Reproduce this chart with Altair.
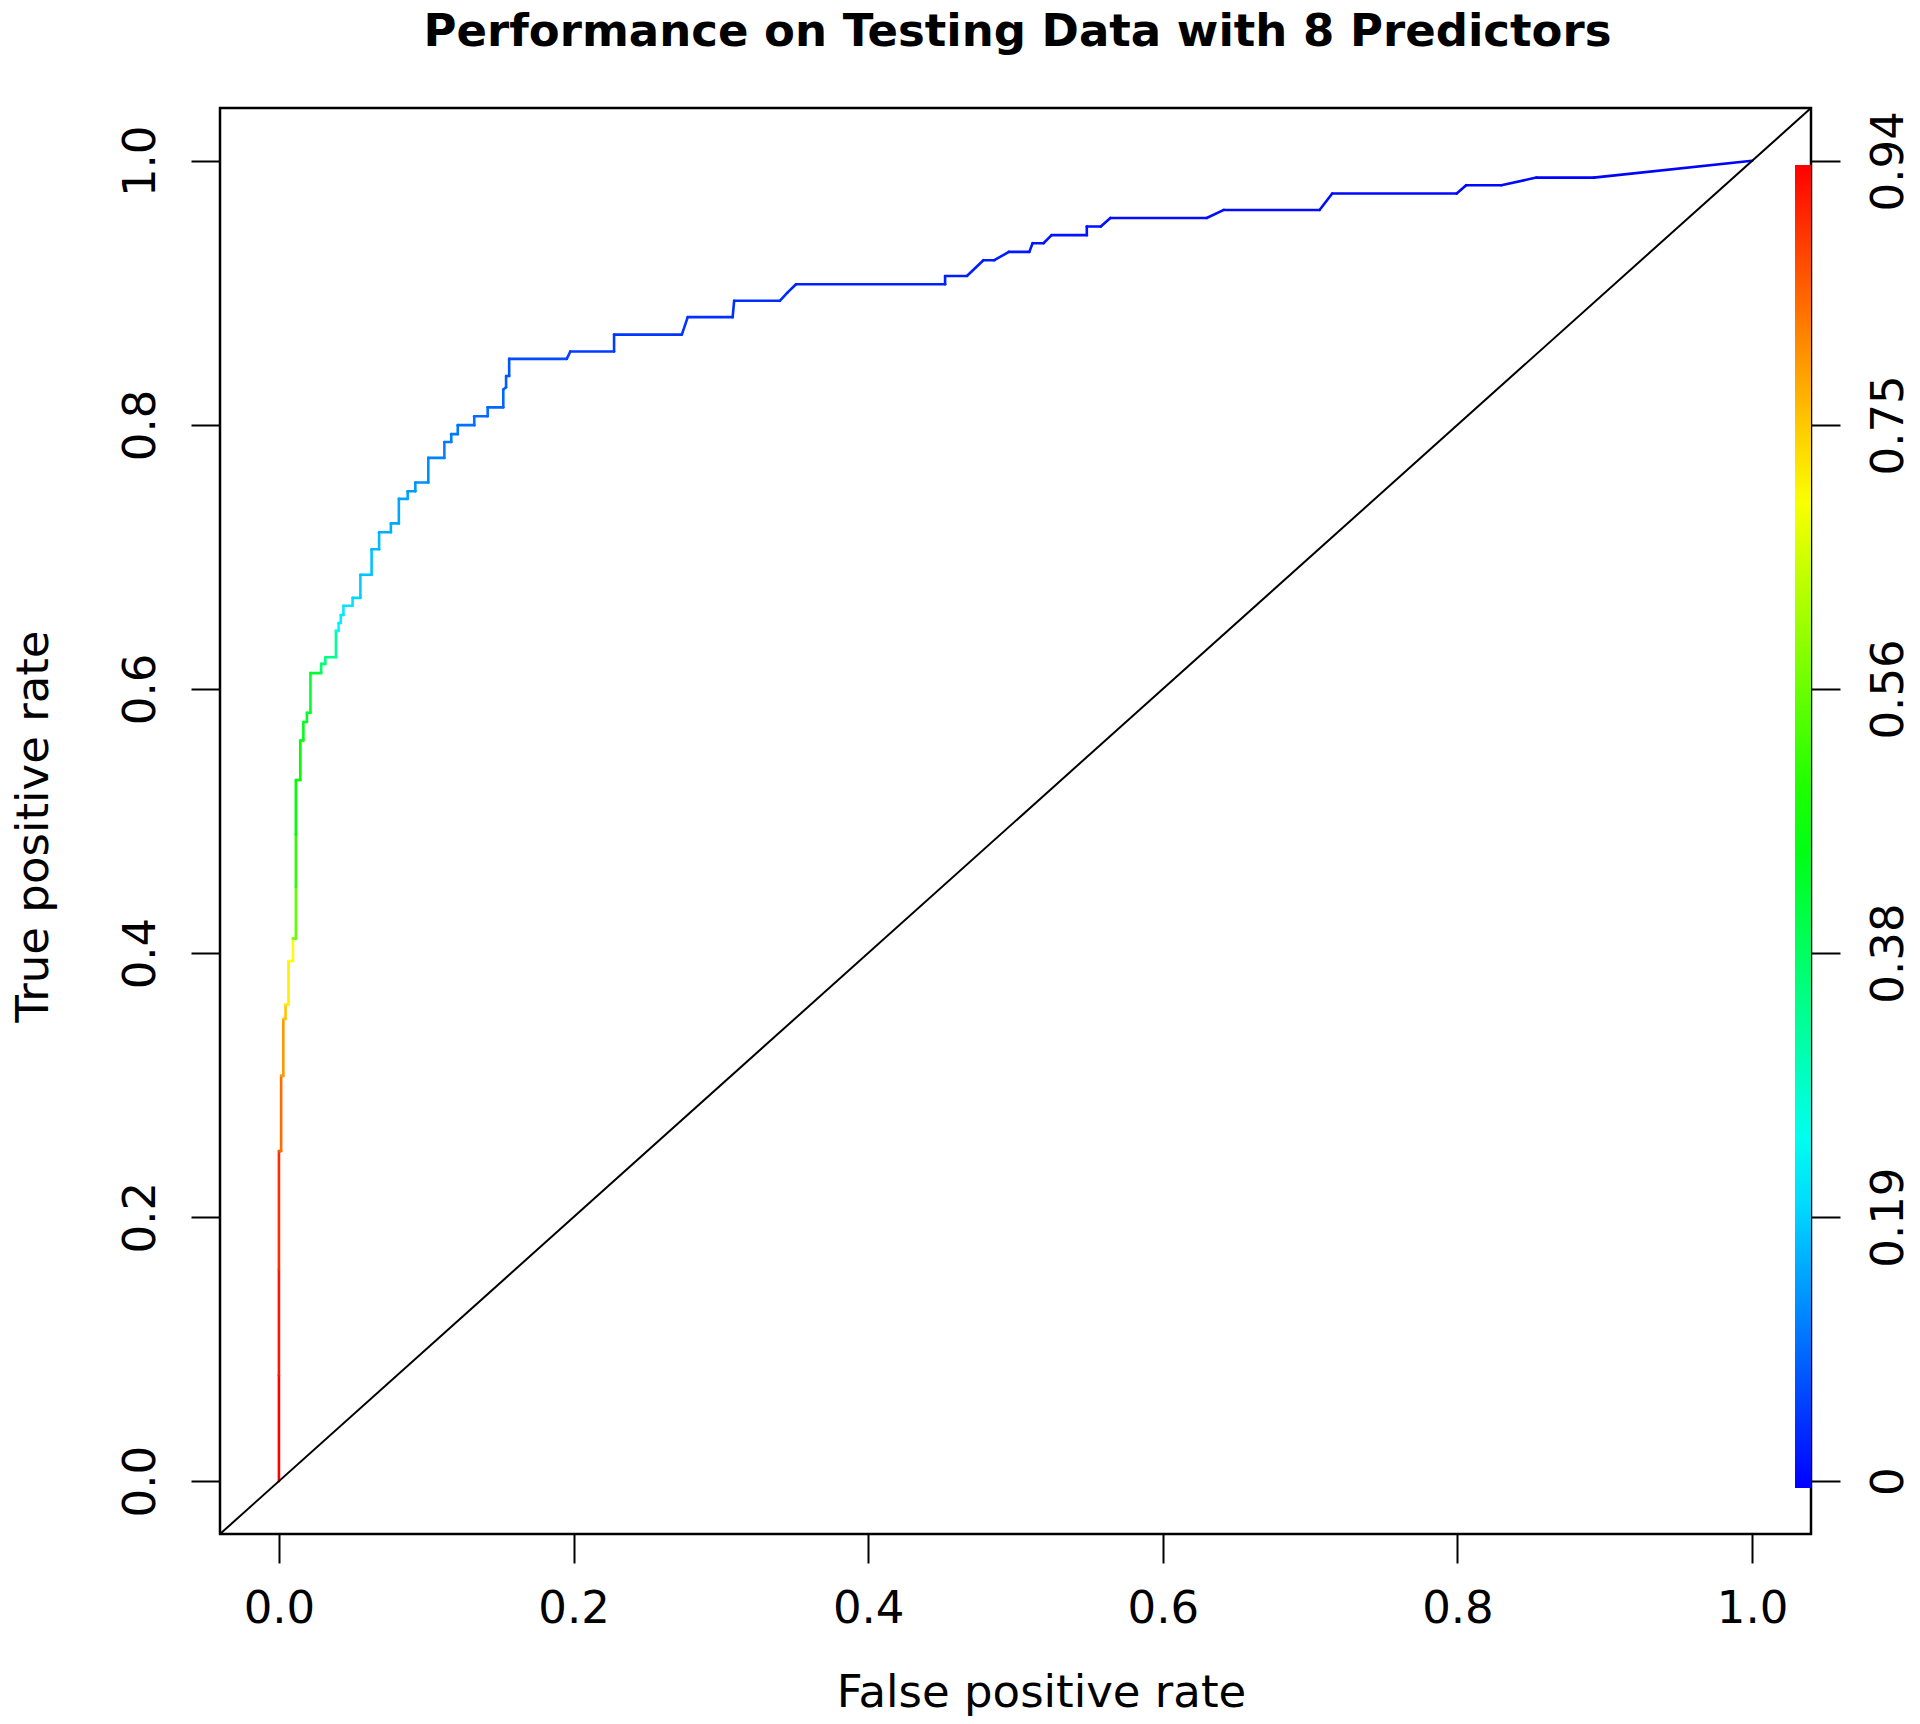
import json
import altair as alt
import pandas as pd

# ROC curve vertices (false positive rate, true positive rate) and the cutoff colouring each step
fpr = [
    0.0000, 0.0000, 0.0000, 0.0000, 0.0015, 0.0015, 0.0030, 0.0030,
    0.0045, 0.0045, 0.0065, 0.0065, 0.0095, 0.0095, 0.0115, 0.0115,
    0.0115, 0.0115, 0.0145, 0.0145, 0.0166, 0.0166, 0.0190, 0.0190,
    0.0214, 0.0214, 0.0287, 0.0287, 0.0315, 0.0315, 0.0387, 0.0387,
    0.0405, 0.0405, 0.0420, 0.0420, 0.0438, 0.0438, 0.0500, 0.0500,
    0.0553, 0.0553, 0.0629, 0.0629, 0.0680, 0.0680, 0.0760, 0.0760,
    0.0814, 0.0814, 0.0874, 0.0874, 0.0926, 0.0926, 0.1014, 0.1014,
    0.1123, 0.1123, 0.1170, 0.1170, 0.1214, 0.1214, 0.1326, 0.1326,
    0.1417, 0.1417, 0.1523, 0.1523, 0.1542, 0.1542, 0.1563, 0.1563,
    0.1954, 0.1978, 0.2275, 0.2275, 0.2735, 0.2775, 0.3080, 0.3090,
    0.3400, 0.3450, 0.3510, 0.4522, 0.4522, 0.4670, 0.4782, 0.4856,
    0.4955, 0.5094, 0.5116, 0.5190, 0.5245, 0.5484, 0.5484, 0.5579,
    0.5644, 0.6298, 0.6414, 0.7064, 0.7150, 0.7995, 0.8059, 0.8298,
    0.8536, 0.8925, 1.0000,
]
tpr = [
    0.000, 0.080, 0.160, 0.250, 0.250, 0.307, 0.307, 0.350,
    0.350, 0.361, 0.361, 0.394, 0.394, 0.411, 0.411, 0.450,
    0.490, 0.531, 0.531, 0.561, 0.561, 0.575, 0.575, 0.582,
    0.582, 0.612, 0.612, 0.619, 0.619, 0.624, 0.624, 0.644,
    0.644, 0.650, 0.650, 0.656, 0.656, 0.663, 0.663, 0.669,
    0.669, 0.6865, 0.6865, 0.7058, 0.7058, 0.7187, 0.7187, 0.7254,
    0.7254, 0.7440, 0.7440, 0.7497, 0.7497, 0.7564, 0.7564, 0.7750,
    0.7750, 0.7870, 0.7870, 0.7930, 0.7930, 0.7998, 0.7998, 0.8065,
    0.8065, 0.8133, 0.8133, 0.8268, 0.8285, 0.8370, 0.8370, 0.8500,
    0.8500, 0.8556, 0.8556, 0.8684, 0.8684, 0.8816, 0.8816, 0.8940,
    0.8940, 0.9000, 0.9065, 0.9065, 0.9128, 0.9128, 0.9247, 0.9247,
    0.9310, 0.9310, 0.9376, 0.9376, 0.9437, 0.9437, 0.9502, 0.9502,
    0.9567, 0.9567, 0.9628, 0.9628, 0.9752, 0.9752, 0.9815, 0.9815,
    0.9873, 0.9873, 1.0000,
]
cutoff = [
    0.94, 0.92, 0.90, 0.86, 0.84, 0.80, 0.80, 0.76,
    0.76, 0.72, 0.72, 0.705, 0.705, 0.56, 0.56, 0.51,
    0.47, 0.47, 0.47, 0.45, 0.45, 0.44, 0.44, 0.43,
    0.43, 0.43, 0.37, 0.37, 0.35, 0.35, 0.33, 0.25,
    0.23, 0.22, 0.22, 0.215, 0.215, 0.21, 0.21, 0.20,
    0.19, 0.18, 0.18, 0.17, 0.17, 0.16, 0.16, 0.155,
    0.155, 0.15, 0.15, 0.14, 0.14, 0.13, 0.13, 0.12,
    0.12, 0.115, 0.115, 0.11, 0.11, 0.105, 0.105, 0.10,
    0.10, 0.095, 0.095, 0.09, 0.085, 0.08, 0.08, 0.07,
    0.06, 0.055, 0.055, 0.05, 0.05, 0.045, 0.045, 0.04,
    0.04, 0.035, 0.03, 0.03, 0.028, 0.028, 0.025, 0.025,
    0.022, 0.022, 0.02, 0.02, 0.018, 0.018, 0.015, 0.015,
    0.012, 0.012, 0.01, 0.01, 0.008, 0.008, 0.006, 0.006,
    0.004, 0.002, 0.0,
]
assert len(fpr) == len(tpr) == len(cutoff)

title_text = "Performance on Testing Data with 8 Predictors"
x_title = "False positive rate"
y_title = "True positive rate"
x_ticks = [0.0, 0.2, 0.4, 0.6, 0.8, 1.0]
y_ticks = [0.0, 0.2, 0.4, 0.6, 0.8, 1.0]
cutoff_labels = ["0", "0.19", "0.38", "0.56", "0.75", "0.94"]
diag_ends = [-0.04, 1.04]
axis_domain = [-0.04, 1.04]

cut_max = 0.94
rainbow = ["#0000FF", "#0080FF", "#00FFFF", "#00FF80", "#00FF00",
           "#80FF00", "#FFFF00", "#FF8000", "#FF0000"]
color_domain = [cut_max * i / (len(rainbow) - 1) for i in range(len(rainbow))]

segs = pd.DataFrame({
    "x": fpr[:-1], "y": tpr[:-1], "x2": fpr[1:], "y2": tpr[1:], "cutoff": cutoff[:-1],
})
diag = pd.DataFrame({
    "x": [diag_ends[0]], "y": [diag_ends[0]], "x2": [diag_ends[1]], "y2": [diag_ends[1]],
})
title_df = pd.DataFrame({"t": [title_text]})

FONT = "DejaVu Sans"
FS = 45
W, H = 1591, 1426

xscale = alt.Scale(domain=axis_domain, nice=False, zero=False)
yscale = alt.Scale(domain=axis_domain, nice=False, zero=False)

common_axis = dict(
    domain=False, grid=False, tickSize=29, tickWidth=2, tickColor="black",
    labelFontSize=FS, labelFont=FONT, labelColor="black", labelFlush=False,
    labelOverlap=False, titleFontSize=FS, titleFont=FONT, titleFontWeight="normal",
    titleColor="black",
)

x_enc = alt.X("x:Q", scale=xscale, axis=alt.Axis(
    values=x_ticks, format=".1f", title=x_title,
    labelPadding=59, labelBaseline="alphabetic", labelAlign="center",
    titleX=821, titleY=172, titleBaseline="alphabetic", titleAlign="center",
    **common_axis))

y_left = alt.Y("y:Q", scale=yscale, axis=alt.Axis(
    orient="left", values=y_ticks, format=".1f", title=y_title,
    labelAngle=270, labelAlign="center", labelBaseline="alphabetic", labelPadding=37,
    titleAngle=270, titleX=-173, titleY=718, titleBaseline="alphabetic", titleAlign="center",
    **common_axis))

label_expr = json.dumps(cutoff_labels) + "[round(datum.value*5)]"
y_right = alt.Y("y:Q", scale=yscale, axis=alt.Axis(
    orient="right", values=y_ticks, labelExpr=label_expr, title=None,
    labelAngle=270, labelAlign="center", labelBaseline="alphabetic", labelPadding=62,
    **common_axis))

curve = alt.Chart(segs).mark_rule(strokeWidth=2.6, strokeCap="round").encode(
    x=x_enc, y=y_left, x2="x2:Q", y2="y2:Q",
    color=alt.Color("cutoff:Q",
                    scale=alt.Scale(domain=color_domain, range=rainbow, interpolate="rgb"),
                    legend=alt.Legend(orient="none", legendX=1575, legendY=57,
                                      direction="vertical", gradientLength=1323,
                                      gradientThickness=16, gradientStrokeWidth=0,
                                      title=None, labelExpr="''", padding=0)),
)

diag_layer = alt.Chart(diag).mark_rule(strokeWidth=2, color="black").encode(
    x=x_enc, y=y_right, x2="x2:Q", y2="y2:Q",
)

title_layer = alt.Chart(title_df).mark_text(
    font=FONT, fontSize=FS, fontWeight="bold", color="black",
    align="center", baseline="alphabetic",
).encode(x=alt.value(W / 2 + 2), y=alt.value(-62), text="t:N")

chart = alt.layer(curve, diag_layer, title_layer).resolve_axis(y="independent").resolve_scale(
    y="independent"
).properties(
    width=W, height=H,
    autosize=alt.AutoSizeParams(type="none"),
    padding={"left": 212, "top": 100, "right": 101, "bottom": 182},
).configure_view(stroke="black", strokeWidth=2.5)

chart.save("out.html", embed_options={"renderer": "svg", "actions": False})
